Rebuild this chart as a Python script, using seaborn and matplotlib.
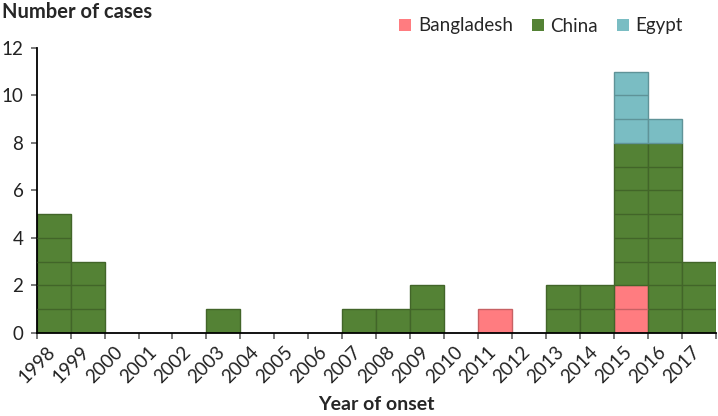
import numpy as np
import pandas as pd
import matplotlib
matplotlib.use("Agg")
import matplotlib.pyplot as plt
import matplotlib.colors as mcolors
from matplotlib.patches import Patch
from matplotlib.transforms import ScaledTranslation
import seaborn as sns

# cases by year of onset
years = list(range(1998, 2018))
bangladesh = [0, 0, 0, 0, 0, 0, 0, 0, 0, 0, 0, 0, 0, 1, 0, 0, 0, 2, 0, 0]
china = [5, 3, 0, 0, 0, 1, 0, 0, 0, 1, 1, 2, 0, 0, 0, 2, 2, 6, 8, 3]
egypt = [0, 0, 0, 0, 0, 0, 0, 0, 0, 0, 0, 0, 0, 0, 0, 0, 0, 3, 1, 0]

countries = ["Bangladesh", "China", "Egypt"]
colors = {"Bangladesh": "#FF7C80", "China": "#548235", "Egypt": "#7ABDC3"}

df = pd.DataFrame({
    "year": years * 3,
    "country": ["Bangladesh"] * len(years) + ["China"] * len(years) + ["Egypt"] * len(years),
    "cases": bangladesh + china + egypt,
})

sns.set_theme(style="ticks")
plt.rcParams["font.family"] = ["Lato", "DejaVu Sans"]

fig = plt.figure(figsize=(7.18, 4.16), dpi=100)
ax = fig.add_axes([0.051, 0.2, 0.946, 0.685])

# seaborn stacks the last hue level at the bottom
sns.histplot(data=df, x="year", weights="cases", hue="country",
             hue_order=countries[::-1], binwidth=1, binrange=(1998, 2018),
             multiple="stack", palette=colors, alpha=1, legend=False,
             linewidth=1, ax=ax)


def darker(c, f=0.22):
    r, g, b = mcolors.to_rgb(c)
    return (r * (1 - f), g * (1 - f), b * (1 - f))


# outline every case as its own cell
for p in ax.patches:
    h = p.get_height()
    if h <= 0:
        p.set_linewidth(0)
        continue
    ec = darker(p.get_facecolor())
    p.set_edgecolor(ec)
    y0 = p.get_y()
    x0 = p.get_x()
    x1 = x0 + p.get_width()
    for k in range(1, int(round(h))):
        ax.hlines(y0 + k, x0, x1, color=ec, linewidth=1, zorder=3)

ax.set_xlim(1998, 2018)
ax.set_ylim(0, 12)
ax.set_yticks(range(0, 13, 2))
ax.set_xticks(range(1998, 2019))
ax.set_xticklabels([str(y) for y in years] + [""], rotation=45, ha="center")
shift = ScaledTranslation(8 / 100, 0, fig.dpi_scale_trans)
for lab in ax.get_xticklabels():
    lab.set_transform(lab.get_transform() + shift)

sns.despine(ax=ax)
for s in ["left", "bottom"]:
    ax.spines[s].set_color("black")
    ax.spines[s].set_linewidth(1.3)
ax.tick_params(axis="both", direction="out", length=4.5, width=1.1,
               color="#555555", labelsize=13.5, labelcolor="#222222")
ax.tick_params(axis="y", pad=5)
ax.tick_params(axis="x", pad=3)

ax.set_ylabel("")
ax.set_xlabel("Year of onset", fontsize=14, fontweight="bold", labelpad=7)
fig.text(0.003, 0.995, "Number of cases", fontsize=14.5, fontweight="bold",
         va="top", ha="left")

handles = [Patch(facecolor=colors[c], edgecolor="none") for c in countries]
fig.legend(handles, countries, loc="center", bbox_to_anchor=(541 / 718, 1 - 26 / 416),
           ncol=3, frameon=False, handlelength=0.65, handleheight=0.65,
           handletextpad=0.35, columnspacing=1.0, fontsize=13.5)

fig.savefig("out.png", dpi=100)
